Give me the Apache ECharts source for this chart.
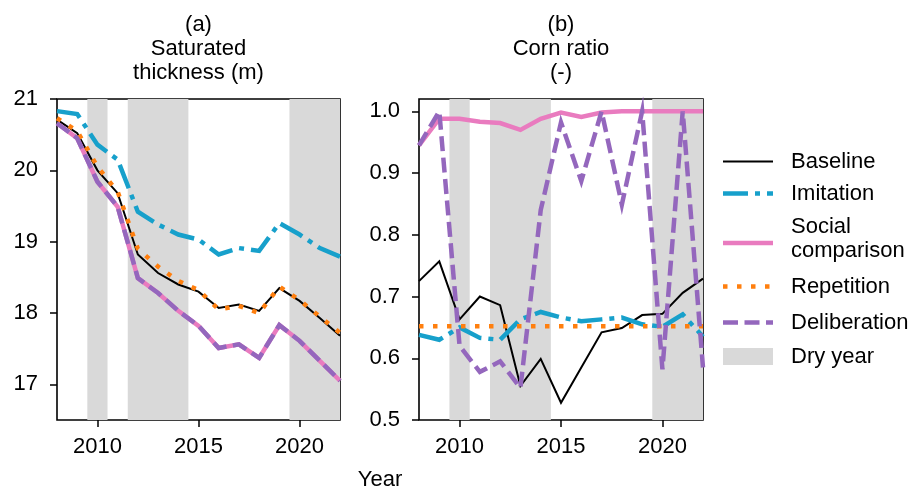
<!DOCTYPE html>
<html>
<head>
<meta charset="utf-8">
<script src="https://cdn.jsdelivr.net/npm/echarts@6/dist/echarts.min.js"></script>
<style>
html,body{margin:0;padding:0;background:#fff;}
#chart{width:921px;height:492px;}
</style>
</head>
<body>
<div id="chart"></div>
<script>
// ---------- data ----------
const years = [2008,2009,2010,2011,2012,2013,2014,2015,2016,2017,2018,2019,2020,2021,2022];
const seriesNames = ['Baseline','Imitation','Social\ncomparison','Repetition','Deliberation'];
const dryYears = [2010,2012,2013,2014,2020,2021,2022];

// (a) Saturated thickness (m)
const aBaseline     = [20.71,20.52,20.00,19.68,18.82,18.56,18.40,18.30,18.07,18.12,18.03,18.35,18.17,17.93,17.68];
const aImitation    = [20.83,20.79,20.36,20.15,19.42,19.24,19.10,19.03,18.82,18.91,18.87,19.26,19.10,18.91,18.79];
const aSocial       = [20.66,20.45,19.84,19.49,18.49,18.28,18.03,17.82,17.51,17.56,17.37,17.83,17.61,17.33,17.05];
const aRepetition   = [20.73,20.55,20.05,19.70,18.90,18.65,18.45,18.32,18.05,18.10,18.00,18.37,18.18,17.95,17.72];
const aDeliberation = [20.66,20.45,19.84,19.49,18.49,18.28,18.03,17.82,17.51,17.56,17.37,17.83,17.61,17.33,17.05];

// (b) Corn ratio (-)
const bBaseline     = [0.725,0.757,0.663,0.700,0.686,0.555,0.599,0.528,0.585,0.642,0.649,0.670,0.672,0.706,0.729];
const bImitation    = [0.638,0.630,0.650,0.633,0.630,0.663,0.675,0.666,0.660,0.663,0.666,0.655,0.651,0.671,0.635];
const bSocial       = [0.945,0.988,0.988,0.983,0.981,0.970,0.988,0.998,0.991,0.998,1.000,1.000,1.000,1.000,1.000];
const bRepetition   = [0.652,0.652,0.652,0.652,0.652,0.652,0.652,0.652,0.652,0.652,0.652,0.652,0.652,0.652,0.652];
const bDeliberation = [0.945,1.000,0.620,0.578,0.595,0.552,0.840,0.982,0.887,1.000,0.849,1.000,0.582,1.000,0.585];

const xTicks = [2010,2015,2020];
const aYTicks = [17,18,19,20,21];
const bYTicks = [0.5,0.6,0.7,0.8,0.9,1.0];

// ---------- styles ----------
const FONT = 'Liberation Sans, Arial, sans-serif';
const FS = 22;
const DRY = '#d9d9d9';
const styles = [
  {color:'#000000', width:2,   dash:'solid'},
  {color:'#17a0cb', width:4.5, dash:[25,7,5,7]},
  {color:'#e97bbf', width:4.5, dash:'solid'},
  {color:'#ff7f0e', width:4.5, dash:[4.5,9.5]},
  {color:'#9467bd', width:4.5, dash:[15,6.5]}
];

// merge dry years into contiguous bands
const xMin = 2008, xMax = 2022;
const bands = [];
dryYears.forEach(y => {
  const s = Math.max(xMin, y-0.5), e = Math.min(xMax, y+0.5);
  if (bands.length && Math.abs(bands[bands.length-1][1]-s) < 1e-9) bands[bands.length-1][1] = e;
  else bands.push([s,e]);
});

function bandRender(params, api){
  const cs = params.coordSys;
  const p0 = api.coord([api.value(0), 0]);
  const p1 = api.coord([api.value(1), 0]);
  return {type:'rect', shape:{x:p0[0], y:cs.y, width:p1[0]-p0[0], height:cs.height}, style:{fill:DRY}};
}

const panelData = [
  [aBaseline,aImitation,aSocial,aRepetition,aDeliberation],
  [bBaseline,bImitation,bSocial,bRepetition,bDeliberation]
];

const series = [];
[0,1].forEach(g => {
  series.push({type:'custom', xAxisIndex:g, yAxisIndex:g, renderItem:bandRender, data:bands,
    encode:{x:[0,1]}, z:1, silent:true, clip:true});
  panelData[g].forEach((arr,i) => {
    series.push({
      name: seriesNames[i], type:'line', xAxisIndex:g, yAxisIndex:g,
      data: years.map((y,k)=>[y,arr[k]]),
      showSymbol:false, symbol:'none', z:2+i, silent:true, clip:true,
      lineStyle:{color:styles[i].color, width:styles[i].width, type:styles[i].dash, cap:'butt', join:'miter'}
    });
  });
});

const axisCommonX = (idx) => ({
  type:'value', gridIndex:idx, min:xMin, max:xMax,
  axisLine:{show:false},
  splitLine:{show:false},
  axisTick:{show:true, length:7, customValues:xTicks, lineStyle:{color:'#000', width:1.5}},
  axisLabel:{customValues:xTicks, margin:16, fontSize:FS, color:'#000', fontFamily:FONT,
             formatter:v=>String(v)}
});

const grids = [
  {left:57, top:99, width:283, height:321},
  {left:419, top:99, width:284, height:321}
].map(g => Object.assign(g, {show:true, borderColor:'#000', borderWidth:1.6, backgroundColor:'transparent', containLabel:false}));

// legend graphics
const legendY = [161.5, 193.5, 243, 286.5, 322.5];
const legendG = [];
styles.forEach((s,i) => {
  legendG.push({type:'line', shape:{x1:723, y1:legendY[i], x2:773, y2:legendY[i]},
    style:{stroke:s.color, lineWidth:s.width, lineDash: s.dash==='solid'?null:s.dash, lineCap:'butt'}});
});
const legendTextY = [161.5, 193.5, 227, 286.5, 322.5];
['Baseline','Imitation','Social','Repetition','Deliberation'].forEach((t,i)=>{
  legendG.push({type:'text', x:791, y:legendTextY[i], style:{text:t, font:FS+'px '+FONT, fill:'#000', textVerticalAlign:'middle'}});
});
legendG.push({type:'text', x:791, y:251, style:{text:'comparison', font:FS+'px '+FONT, fill:'#000', textVerticalAlign:'middle'}});
legendG.push({type:'rect', shape:{x:723, y:348, width:50, height:17}, style:{fill:DRY}});
legendG.push({type:'text', x:791, y:356.5, style:{text:'Dry year', font:FS+'px '+FONT, fill:'#000', textVerticalAlign:'middle'}});

const titleG = [];
const titles = [['(a)','Saturated','thickness (m)'], ['(b)','Corn ratio','(-)']];
const titleX = [198.5, 561];
titles.forEach((lines,g)=>lines.forEach((t,k)=>{
  titleG.push({type:'text', x:titleX[g], y:25+24*k, style:{text:t, font:FS+'px '+FONT, fill:'#000', textAlign:'center', textVerticalAlign:'middle'}});
}));
titleG.push({type:'text', x:380, y:480, style:{text:'Year', font:FS+'px '+FONT, fill:'#000', textAlign:'center', textVerticalAlign:'middle'}});

const option = {
  animation:false,
  backgroundColor:'#fff',
  grid: grids,
  xAxis: [axisCommonX(0), axisCommonX(1)],
  yAxis: [
    {type:'value', gridIndex:0, min:16.5, max:21, axisLine:{show:false}, splitLine:{show:false},
     axisTick:{show:true, length:7, customValues:aYTicks, lineStyle:{color:'#000', width:1.5}},
     axisLabel:{customValues:aYTicks, margin:19, fontSize:FS, color:'#000', fontFamily:FONT, formatter:v=>String(Math.round(v))}},
    {type:'value', gridIndex:1, min:0.5, max:1.02, axisLine:{show:false}, splitLine:{show:false},
     axisTick:{show:true, length:7, customValues:bYTicks, lineStyle:{color:'#000', width:1.5}},
     axisLabel:{customValues:bYTicks, margin:19, fontSize:FS, color:'#000', fontFamily:FONT, formatter:v=>Number(v).toFixed(1)}}
  ],
  series: series,
  graphic: titleG.concat(legendG)
};

const chart = echarts.init(document.getElementById('chart'), null, {renderer:'canvas'});
chart.setOption(option);
</script>
</body>
</html>
